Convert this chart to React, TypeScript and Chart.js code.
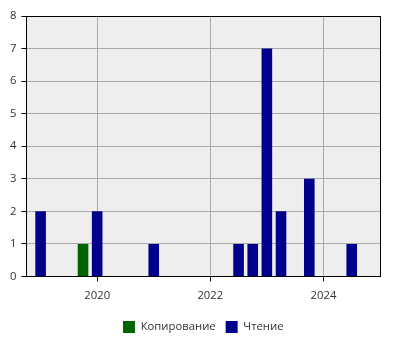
import React, { useEffect, useRef } from "react";
import { Chart, registerables } from "chart.js";

Chart.register(...registerables);

const copyDates = [2019.75];
const copyValues = [1];
const readDates = [2019.0, 2020.0, 2021.0, 2022.5, 2022.75, 2023.0, 2023.25, 2023.75, 2024.5];
const readValues = [2, 2, 1, 1, 1, 7, 2, 3, 1];
const xTickYears = [2020, 2022, 2024];
const seriesNames = ["Копирование", "Чтение"];

const FONT = "'Open Sans', 'DejaVu Sans', sans-serif";
const FS = 11.3;

const frame = {
  id: "frame",
  afterLayout(chart: any) {
    if (chart.legend) {
      chart.legend.left = chart.chartArea.left;
      chart.legend.right = chart.chartArea.right;
    }
  },
  beforeDraw(chart: any) {
    const { ctx, chartArea: a } = chart;
    ctx.save();
    ctx.fillStyle = "#eeeeee";
    ctx.fillRect(a.left, a.top, a.right - a.left, a.bottom - a.top);
    ctx.restore();
  },
  afterDatasetsDraw(chart: any) {
    const { ctx, chartArea: a } = chart;
    ctx.save();
    ctx.strokeStyle = "#000";
    ctx.lineWidth = 1;
    ctx.strokeRect(Math.round(a.left) + 0.5, Math.round(a.top) + 0.5, Math.round(a.right - a.left), Math.round(a.bottom - a.top));
    ctx.restore();
  },
};

export default function App() {
  const ref = useRef<HTMLCanvasElement>(null);
  useEffect(() => {
    document.body.style.margin = "0";
    const chart = new Chart(ref.current!, {
      type: "bar",
      data: {
        datasets: [
          {
            label: seriesNames[0],
            data: copyDates.map((x, i) => ({ x, y: copyValues[i] })),
            backgroundColor: "#006400",
            borderWidth: 0,
          },
          {
            label: seriesNames[1],
            data: readDates.map((x, i) => ({ x, y: readValues[i] })),
            backgroundColor: "#00008b",
            borderWidth: 0,
          },
        ],
      },
      plugins: [frame],
      options: {
        animation: false,
        responsive: false,
        grouped: false,
        categoryPercentage: 0.75,
        barPercentage: 1,
        layout: { padding: { left: 5, right: 20, top: 16, bottom: 7 } },
        font: { family: FONT, size: FS },
        scales: {
          x: {
            type: "linear",
            min: 2018.75,
            max: 2025,
            offset: false,
            grid: { offset: false, color: "#aaaaaa", tickColor: "#000", tickLength: 5, drawTicks: true },
            border: { color: "#000", width: 1 },
            afterBuildTicks: (scale: any) => {
              scale.ticks = xTickYears.map((v) => ({ value: v }));
            },
            ticks: {
              color: "#333",
              font: { family: FONT, size: FS },
              padding: 8,
              maxRotation: 0,
              callback: (v: any) => String(v),
            },
          },
          y: {
            min: 0,
            max: 8,
            grid: { color: "#aaaaaa", tickColor: "#000", tickLength: 5 },
            border: { color: "#000", width: 1 },
            ticks: { stepSize: 1, color: "#333", font: { family: FONT, size: FS }, padding: 5 },
          },
        },
        plugins: {
          tooltip: { enabled: false },
          legend: {
            position: "bottom",
            labels: {
              boxWidth: 12,
              boxHeight: 12,
              color: "#333",
              padding: 10,
              font: { family: FONT, size: FS },
            },
          },
        },
      } as any,
    });
    return () => chart.destroy();
  }, []);
  return (
    <div style={{ width: 400, height: 350 }}>
      <canvas ref={ref} width={400} height={350} />
    </div>
  );
}
